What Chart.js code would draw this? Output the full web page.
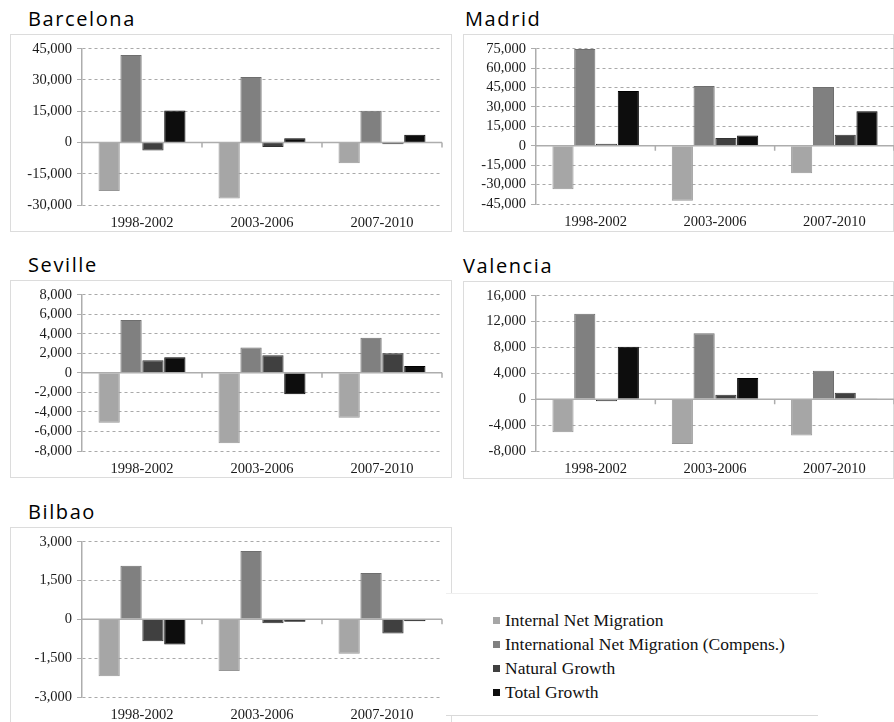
<!DOCTYPE html>
<html>
<head>
<meta charset="utf-8">
<script src="https://cdn.jsdelivr.net/npm/chart.js@4.4.1/dist/chart.umd.min.js"></script>
<style>
  html, body { margin:0; padding:0; background:#fff; }
  body { width:894px; height:722px; position:relative; overflow:hidden; }
  .frame { position:absolute; border:1px solid #dcdcdc; box-sizing:border-box; background:#fff; }
  .frame canvas { position:absolute; left:0; top:0; }
  .title { position:absolute; font-family:"Open Sans", sans-serif; font-size:20px; line-height:20px; letter-spacing:1.6px; color:#000; white-space:nowrap; }
  #legendBox { position:absolute; left:446px; top:593px; width:372px; height:123px; background:#fff;
               border-top:1px solid #efefef; border-bottom:1px solid #d9d9d9; box-sizing:border-box; }
  #legend { position:absolute; left:493px; top:608px; font-family:"Liberation Serif", serif; font-size:17.5px; color:#111; }
  #legend .row { height:24px; line-height:24px; white-space:nowrap; }
  #legend .sw { display:inline-block; width:7px; height:7px; margin-right:5px; vertical-align:middle; position:relative; top:-1px; }
</style>
</head>
<body>
<script>
// ---------- DATA ----------
const categories = ['1998-2002', '2003-2006', '2007-2010'];
const seriesNames = ['Internal Net Migration', 'International Net Migration (Compens.)', 'Natural Growth', 'Total Growth'];
const seriesColors = ['#a6a6a6', '#808080', '#404040', '#0d0d0d'];
const seriesBorders = ['#979797', '#6e6e6e', '#333333', '#000000'];

const barcelonaInternal      = [-23300, -26900, -10000];
const barcelonaInternational = [42000, 31400, 15200];
const barcelonaNatural       = [-3900, -2200, -900];
const barcelonaTotal         = [15300, 2000, 3700];

const madridInternal      = [-33600, -42400, -21200];
const madridInternational = [74800, 46100, 45400];
const madridNatural       = [1500, 6000, 8500];
const madridTotal         = [42400, 8000, 26700];

const sevilleInternal      = [-5100, -7200, -4600];
const sevilleInternational = [5400, 2600, 3600];
const sevilleNatural       = [1300, 1800, 2000];
const sevilleTotal         = [1600, -2200, 700];

const valenciaInternal      = [-5100, -6900, -5600];
const valenciaInternational = [13200, 10200, 4400];
const valenciaNatural       = [-300, 700, 1000];
const valenciaTotal         = [8100, 3300, 100];

const bilbaoInternal      = [-2200, -2000, -1325];
const bilbaoInternational = [2075, 2640, 1790];
const bilbaoNatural       = [-850, -150, -550];
const bilbaoTotal         = [-975, -90, -75];

// y-axis tick ranges: [min, max, step]
const barcelonaTicks = [-30000, 45000, 15000];
const madridTicks    = [-45000, 75000, 15000];
const sevilleTicks   = [-8000, 8000, 2000];
const valenciaTicks  = [-8000, 16000, 4000];
const bilbaoTicks    = [-3000, 3000, 1500];

// ---------- LAYOUT ----------
const panels = [
  { name:'Barcelona', title:[28, 9],   box:[10, 34, 442, 198],  yW:71, padT:9,  padR:11, xH:28, ticks:barcelonaTicks,
    data:[barcelonaInternal, barcelonaInternational, barcelonaNatural, barcelonaTotal] },
  { name:'Madrid',    title:[465, 9],  box:[463, 34, 431, 198], yW:72, padT:10, padR:1,  xH:29, ticks:madridTicks,
    data:[madridInternal, madridInternational, madridNatural, madridTotal] },
  { name:'Seville',   title:[28, 255], box:[10, 280, 442, 198], yW:71, padT:10, padR:11, xH:28, ticks:sevilleTicks,
    data:[sevilleInternal, sevilleInternational, sevilleNatural, sevilleTotal] },
  { name:'Valencia',  title:[463, 256],box:[463, 281, 431, 198],yW:72, padT:8,  padR:1,  xH:29, ticks:valenciaTicks,
    data:[valenciaInternal, valenciaInternational, valenciaNatural, valenciaTotal] },
  { name:'Bilbao',    title:[28, 502], box:[10, 527, 442, 200], yW:71, padT:9,  padR:11, xH:31, ticks:bilbaoTicks,
    data:[bilbaoInternal, bilbaoInternational, bilbaoNatural, bilbaoTotal] }
];

const axisGray = '#adadad';
const tickFont = { family:'"Liberation Serif", serif', size:14.5 };

const zeroAxisPlugin = {
  id:'zeroAxis',
  afterDatasetsDraw(chart) {
    const { ctx, chartArea, scales:{ x, y } } = chart;
    const y0 = y.getPixelForValue(0);
    ctx.save();
    ctx.strokeStyle = axisGray;
    ctx.lineWidth = 1.5;
    ctx.beginPath();
    ctx.moveTo(chartArea.left, y0);
    ctx.lineTo(chartArea.right, y0);
    const n = chart.data.labels.length;
    const bounds = [];
    for (let i = 1; i < n; i++) bounds.push((x.getPixelForValue(i - 1) + x.getPixelForValue(i)) / 2);
    bounds.push(chartArea.right);
    bounds.forEach(bx => { ctx.moveTo(bx, y0); ctx.lineTo(bx, y0 + 5); });
    ctx.stroke();
    ctx.restore();
  }
};

panels.forEach(p => {
  const t = document.createElement('div');
  t.className = 'title';
  t.textContent = p.name;
  t.style.left = p.title[0] + 'px';
  t.style.top = p.title[1] + 'px';
  document.body.appendChild(t);

  const f = document.createElement('div');
  f.className = 'frame';
  const [bx, by, bw, bh] = p.box;
  f.style.left = bx + 'px'; f.style.top = by + 'px';
  f.style.width = bw + 'px'; f.style.height = bh + 'px';
  const c = document.createElement('canvas');
  c.width = bw; c.height = bh;
  c.style.width = bw + 'px'; c.style.height = bh + 'px';
  f.appendChild(c);
  document.body.appendChild(f);

  new Chart(c, {
    type:'bar',
    data:{
      labels:categories,
      datasets:p.data.map((vals, i) => ({
        label:seriesNames[i],
        data:vals,
        backgroundColor:seriesColors[i],
        borderColor:seriesBorders[i],
        borderWidth:1,
        barPercentage:0.97,
        categoryPercentage:0.73
      }))
    },
    options:{
      responsive:false,
      animation:false,
      devicePixelRatio:1,
      layout:{ padding:{ top:p.padT, right:p.padR, left:0, bottom:0 } },
      plugins:{ legend:{ display:false }, tooltip:{ enabled:false }, title:{ display:false } },
      scales:{
        x:{
          grid:{ display:false, drawTicks:false },
          border:{ display:false },
          ticks:{ font:tickFont, color:'#1a1a1a', padding:9, maxRotation:0, autoSkip:false },
          afterFit(s) { s.height = p.xH; }
        },
        y:{
          min:p.ticks[0], max:p.ticks[1],
          ticks:{ stepSize:p.ticks[2], font:tickFont, color:'#1a1a1a', padding:5, autoSkip:false,
                  callback:v => v.toLocaleString('en-US') },
          grid:{ color:ctx => (ctx.tick && ctx.tick.value === 0) ? 'rgba(0,0,0,0)' : '#a9a9a9',
                 tickColor:axisGray, tickLength:5, lineWidth:1 },
          border:{ display:true, color:axisGray, width:1.5, dash:[3,3] },
          afterFit(s) { s.width = p.yW; }
        }
      }
    },
    plugins:[zeroAxisPlugin]
  });
});

// ---------- LEGEND ----------
const lb = document.createElement('div'); lb.id = 'legendBox'; document.body.appendChild(lb);
const lg = document.createElement('div'); lg.id = 'legend';
seriesNames.forEach((n, i) => {
  const r = document.createElement('div'); r.className = 'row';
  const s = document.createElement('span'); s.className = 'sw'; s.style.background = seriesColors[i];
  r.appendChild(s); r.appendChild(document.createTextNode(n));
  lg.appendChild(r);
});
document.body.appendChild(lg);
</script>
</body>
</html>
